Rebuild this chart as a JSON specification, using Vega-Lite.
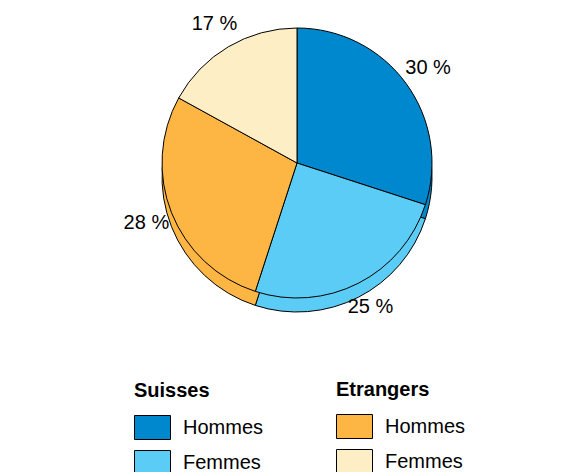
{
  "$schema": "https://vega.github.io/schema/vega-lite/v6.json",
  "width": 560,
  "height": 326,
  "autosize": "none",
  "padding": {"left": 17, "top": 0, "right": 0, "bottom": 146},
  "background": "white",
  "config": {
    "view": {"stroke": null},
    "font": "Liberation Sans",
    "legend": {
      "labelFont": "Liberation Sans",
      "titleFont": "Liberation Sans",
      "labelFontSize": 20,
      "titleFontSize": 20,
      "titleFontWeight": "bold",
      "titleColor": "black",
      "labelColor": "black",
      "symbolSize": 576,
      "symbolType": "M-1,-1L2,-1L2,1L-1,1Z",
      "symbolStrokeColor": "black",
      "symbolStrokeWidth": 1,
      "symbolOpacity": 1,
      "labelOffset": 24,
      "rowPadding": 6,
      "titlePadding": 14
    }
  },
  "data": {
    "values": [
      {"groupe": "Suisses", "sexe": "Hommes", "cle": "Suisses Hommes", "pct": 30, "etiquette": "30 %", "ordre": 1},
      {"groupe": "Suisses", "sexe": "Femmes", "cle": "Suisses Femmes", "pct": 25, "etiquette": "25 %", "ordre": 2},
      {"groupe": "Etrangers", "sexe": "Hommes", "cle": "Etrangers Hommes", "pct": 28, "etiquette": "28 %", "ordre": 3},
      {"groupe": "Etrangers", "sexe": "Femmes", "cle": "Etrangers Femmes", "pct": 17, "etiquette": "17 %", "ordre": 4}
    ]
  },
  "transform": [
    {"stack": "pct", "groupby": [], "sort": [{"field": "ordre", "order": "ascending"}], "as": ["t0", "t1"]}
  ],
  "layer": [
    {
      "mark": {"type": "arc", "radius": 135, "yOffset": 14, "stroke": "black", "strokeWidth": 1},
      "encoding": {
        "theta": {"field": "t0", "type": "quantitative", "scale": {"domain": [0, 100]}},
        "theta2": {"field": "t1"},
        "fill": {
          "field": "cle", "type": "nominal",
          "scale": {"domain": ["Suisses Hommes", "Suisses Femmes", "Etrangers Hommes", "Etrangers Femmes"], "range": ["#0088CE", "#5BCCF6", "#FDB543", "#FEEEC6"]},
          "legend": null
        }
      }
    },
    {
      "transform": [{"filter": "datum.groupe === 'Suisses'"}],
      "mark": {"type": "arc", "radius": 135, "stroke": "black", "strokeWidth": 1, "opacity": 1},
      "encoding": {
        "theta": {"field": "t0", "type": "quantitative", "scale": {"domain": [0, 100]}},
        "theta2": {"field": "t1"},
        "color": {
          "field": "sexe", "type": "nominal",
          "scale": {"domain": ["Hommes", "Femmes"], "range": ["#0088CE", "#5BCCF6"]},
          "legend": {"title": "Suisses", "orient": "none", "legendX": 117, "legendY": 381}
        }
      }
    },
    {
      "transform": [{"filter": "datum.groupe === 'Etrangers'"}],
      "mark": {"type": "arc", "radius": 135, "stroke": "black", "strokeWidth": 1, "opacity": 1},
      "encoding": {
        "theta": {"field": "t0", "type": "quantitative", "scale": {"domain": [0, 100]}},
        "theta2": {"field": "t1"},
        "color": {
          "field": "sexe", "type": "nominal",
          "scale": {"domain": ["Hommes", "Femmes"], "range": ["#FDB543", "#FEEEC6"]},
          "legend": {"title": "Etrangers", "orient": "none", "legendX": 319, "legendY": 380}
        }
      }
    },
    {
      "mark": {"type": "text", "radius": 162, "fontSize": 20, "font": "Liberation Sans", "color": "black"},
      "encoding": {
        "theta": {"field": "pct", "type": "quantitative", "stack": true},
        "order": {"field": "ordre", "type": "quantitative"},
        "text": {"field": "etiquette", "type": "nominal"}
      }
    }
  ],
  "resolve": {"scale": {"color": "independent"}, "legend": {"color": "independent"}}
}
